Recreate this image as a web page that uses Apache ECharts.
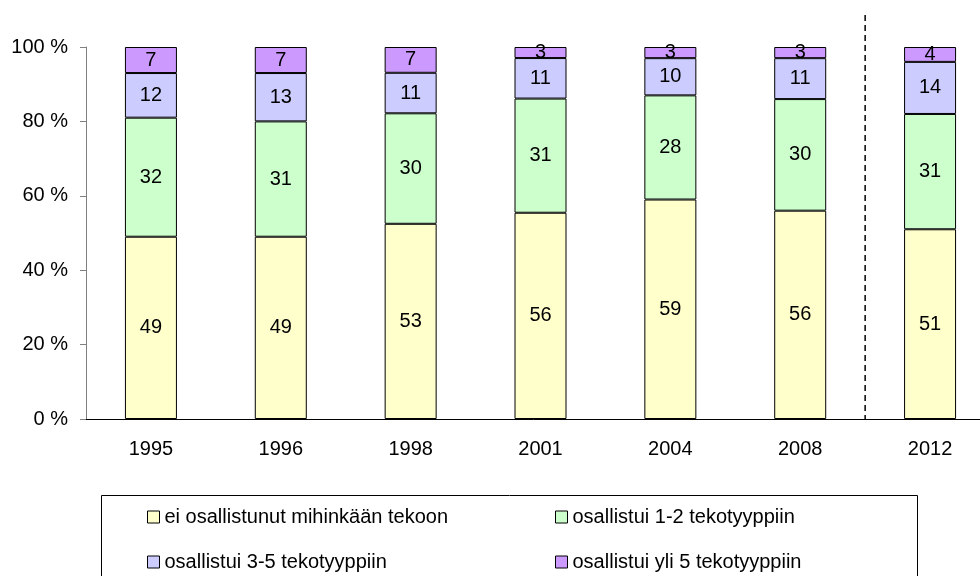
<!DOCTYPE html>
<html>
<head>
<meta charset="utf-8">
<script src="https://cdn.jsdelivr.net/npm/echarts@6/dist/echarts.min.js"></script>
<style>
  html, body { margin: 0; padding: 0; background: #fff; }
  #chart { width: 980px; height: 576px; }
</style>
</head>
<body>
<div id="chart"></div>
<script>
// vuodet ja osuudet (%)
const years = ['1995', '1996', '1998', '2001', '2004', '2008', '2012']
const seriesNames = [
  'ei osallistunut mihinkään tekoon',
  'osallistui 1-2 tekotyyppiin',
  'osallistui 3-5 tekotyyppiin',
  'osallistui yli 5 tekotyyppiin'
]
const none = [49, 49, 53, 56, 59, 56, 51]
const oneTwo = [32, 31, 30, 31, 28, 30, 31]
const threeFive = [12, 13, 11, 11, 10, 11, 14]
const overFive = [7, 7, 7, 3, 3, 3, 4]
const colors = ['#FFFFCC', '#CCFFCC', '#CCCCFF', '#CC99FF']

const font = 'Liberation Sans, Arial, sans-serif'
const raw = [none, oneTwo, threeFive, overFive]
const totals = years.map((_, i) => raw.reduce((s, arr) => s + arr[i], 0))

const chart = echarts.init(document.getElementById('chart'))

const series = raw.map((arr, k) => ({
  name: seriesNames[k],
  type: 'bar',
  stack: 'all',
  barWidth: 52,
  data: arr.map((v, i) => ({ value: v / totals[i] * 100, raw: v })),
  itemStyle: { color: colors[k], borderColor: '#000', borderWidth: 1 },
  label: {
    show: true,
    position: 'inside',
    color: '#000',
    fontFamily: font,
    fontSize: 20,
    formatter: p => p.data.raw
  },
  emphasis: { disabled: true }
}))

const legendBase = {
  orient: 'vertical',
  top: 502,
  height: 120,
  itemGap: 25,
  itemWidth: 12,
  itemHeight: 12,
  icon: 'rect',
  itemStyle: { borderColor: '#000', borderWidth: 1 },
  textStyle: { color: '#000', fontFamily: font, fontSize: 20 },
  selectedMode: false
}

chart.setOption({
  animation: false,
  grid: { left: 86, top: 47, width: 909, height: 372, outerBoundsMode: 'none' },
  xAxis: {
    type: 'category',
    data: years,
    axisLine: { lineStyle: { color: '#000', width: 1 } },
    axisTick: { show: false },
    axisLabel: { color: '#000', fontFamily: font, fontSize: 20, margin: 20 }
  },
  yAxis: {
    type: 'value',
    min: 0,
    max: 100,
    interval: 20,
    splitLine: { show: false },
    axisLine: { show: true, lineStyle: { color: '#808080', width: 1 } },
    axisTick: { show: true, length: 6, lineStyle: { color: '#808080' } },
    axisLabel: { color: '#000', fontFamily: font, fontSize: 20, margin: 18, formatter: '{value} %' }
  },
  legend: [
    Object.assign({}, legendBase, { data: [seriesNames[0], seriesNames[2]], left: 142 }),
    Object.assign({}, legendBase, { data: [seriesNames[1], seriesNames[3]], left: 550 })
  ],
  series: series
})

// katkoviiva 2008 ja 2012 välissä
const xA = chart.convertToPixel({ xAxisIndex: 0 }, '2008')
const xB = chart.convertToPixel({ xAxisIndex: 0 }, '2012')
const yBottom = chart.convertToPixel({ yAxisIndex: 0 }, 0)
const xMid = (xA + xB) / 2
chart.setOption({
  graphic: [
    {
      type: 'line',
      shape: { x1: xMid, y1: 15, x2: xMid, y2: yBottom },
      style: { stroke: '#000', lineWidth: 1.5, lineDash: [6, 4] },
      silent: true
    },
    {
      type: 'rect',
      shape: { x: 101.5, y: 495.5, width: 816, height: 120 },
      style: { fill: 'none', stroke: '#000', lineWidth: 1 },
      silent: true
    }
  ]
})
</script>
</body>
</html>
